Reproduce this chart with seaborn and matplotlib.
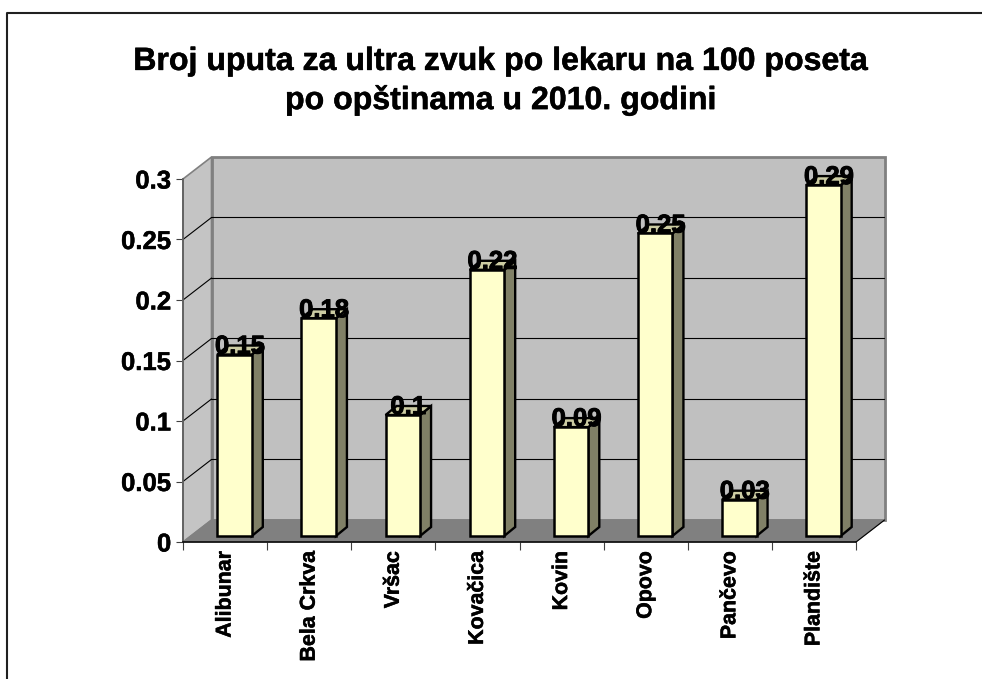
import matplotlib
matplotlib.use("Agg")
import matplotlib.pyplot as plt
import matplotlib.patheffects as pe
from matplotlib.lines import Line2D
from matplotlib.patches import Polygon, Rectangle
from matplotlib.transforms import Affine2D
import pandas as pd
import seaborn as sns

# --- Data ---
opstine = ["Alibunar", "Bela Crkva", "Vršac", "Kovačica", "Kovin", "Opovo", "Pančevo", "Plandište"]
uputa = [0.15, 0.18, 0.1, 0.22, 0.09, 0.25, 0.03, 0.29]
y_ticks = [0, 0.05, 0.1, 0.15, 0.2, 0.25, 0.3]
y_tick_labels = ["0", "0.05", "0.1", "0.15", "0.2", "0.25", "0.3"]
value_labels = ["0.15", "0.18", "0.1", "0.22", "0.09", "0.25", "0.03", "0.29"]
title = "Broj uputa za ultra zvuk po lekaru na 100 poseta\npo opštinama u 2010. godini"

sns.set_theme(style="white")
plt.rcParams["font.family"] = ["Liberation Sans", "DejaVu Sans"]
plt.rcParams["font.weight"] = "bold"

W, H = 982, 679
fig = plt.figure(figsize=(W / 100, H / 100), dpi=100)
ax = fig.add_axes([183 / W, (H - 542) / H, 673 / W, 363 / H])

df = pd.DataFrame({"opstina": opstine, "uputa": uputa})
sns.barplot(data=df, x="opstina", y="uputa", color="#FFFFCC", saturation=1, width=0.41,
            edgecolor="black", linewidth=1.8, ax=ax, zorder=5)
ax.set_xlim(-0.5, len(opstine) - 0.5)
ax.set_ylim(0, 0.3)
ax.set_xlabel("")
ax.set_ylabel("")

# fake 3D: shift everything by pixels (figure is 100 dpi so display units = px)
back = ax.transData + Affine2D().translate(28.5, 22)
bar_shift = Affine2D().translate(9.5, 6)
depth_x, depth_y = 11, 9
px = ax.transData.inverted()
unit_x = px.transform((1, 0))[0] - px.transform((0, 0))[0]
unit_y = px.transform((0, 1))[1] - px.transform((0, 0))[1]

x0, x1 = ax.get_xlim()
y0, y1 = ax.get_ylim()

# walls and floor
ax.add_patch(Rectangle((x0, y0), x1 - x0, y1 - y0, transform=back, fc="#C0C0C0", ec="#808080",
                       lw=2, clip_on=False, zorder=1))
dx, dy = 28.5 * unit_x, 22 * unit_y
ax.add_patch(Polygon([(x0, y0), (x0 + dx, y0 + dy), (x0 + dx, y1 + dy), (x0, y1)], fc="#C4C4C4",
                     ec="#808080", lw=1.2, clip_on=False, zorder=1))
ax.add_patch(Polygon([(x0, y0), (x0 + dx, y0 + dy), (x1 + dx, y0 + dy), (x1, y0)], fc="#808080",
                     ec="#808080", lw=0.8, clip_on=False, zorder=2))
ax.plot([x1, x1 + dx], [y0, y0 + dy], color="black", lw=0.8, clip_on=False, zorder=3)

# gridlines on back and left wall
for t in y_ticks[1:-1]:
    ax.plot([x0 + dx, x1 + dx], [t + dy, t + dy], color="black", lw=0.8, clip_on=False, zorder=2)
    ax.plot([x0, x0 + dx], [t, t + dy], color="black", lw=0.8, clip_on=False, zorder=2)

# bar faces
side_color = "#808066"
top_color = "#CCCCA3"
label_shift = bar_shift + Affine2D().translate(5.5, 1)
for bar, lab in zip(ax.patches[:len(opstine)], value_labels):
    xl, w, h = bar.get_x(), bar.get_width(), bar.get_height()
    bar.set_transform(ax.transData + bar_shift)
    bar.set_clip_on(False)
    ddx, ddy = depth_x * unit_x, depth_y * unit_y
    side = [(xl + w, 0), (xl + w + ddx, ddy), (xl + w + ddx, h + ddy), (xl + w, h)]
    top = [(xl, h), (xl + ddx, h + ddy), (xl + w + ddx, h + ddy), (xl + w, h)]
    for pts, col in ((side, side_color), (top, top_color)):
        ax.add_patch(Polygon(pts, fc=col, ec="black", lw=1.7, transform=ax.transData + bar_shift,
                             clip_on=False, zorder=4))
    ax.text(xl + w / 2, h, lab, transform=ax.transData + label_shift, ha="center", va="baseline",
            fontsize=18.5, fontweight="bold", color="black", zorder=8, clip_on=False,
            path_effects=[pe.withStroke(linewidth=0.7, foreground="black")])

# axes and ticks
for s in ("top", "right"):
    ax.spines[s].set_visible(False)
ax.spines["left"].set_color("#606060")
ax.spines["left"].set_linewidth(1.3)
ax.spines["bottom"].set_color("black")
ax.spines["bottom"].set_linewidth(1.1)
for s in ax.spines.values():
    s.set_zorder(6)
ax.patch.set_alpha(0)

heavy = [pe.withStroke(linewidth=0.35, foreground="black")]
ax.set_yticks(y_ticks)
ax.set_yticklabels(y_tick_labels, fontsize=18.5, fontweight="bold", color="black", path_effects=heavy)
ax.tick_params(axis="y", length=5, width=0.8, color="#404040", pad=3.5, left=True)
ax.set_xticks([x - 0.5 for x in range(len(opstine) + 1)], minor=True)
ax.set_xticks(range(len(opstine)))
ax.set_xticklabels(opstine, rotation=90, fontsize=15.4, fontweight="bold", color="black", path_effects=heavy)
ax.tick_params(axis="x", which="major", length=0, pad=6.5, bottom=False)
ax.tick_params(axis="x", which="minor", length=5.5, width=0.8, color="#404040", bottom=True)

fig.text(501 / W, (H - 81.5) / H, title, ha="center", va="center", fontsize=23.1, fontweight="bold",
         color="black", linespacing=1.34, path_effects=heavy)

# chart frame: only left and top edge are inside the picture
fig.add_artist(Line2D([7 / W, 7 / W, 1], [0, (H - 13) / H, (H - 13) / H], color="#202020", lw=1.5))

fig.savefig("out.png", dpi=100)
